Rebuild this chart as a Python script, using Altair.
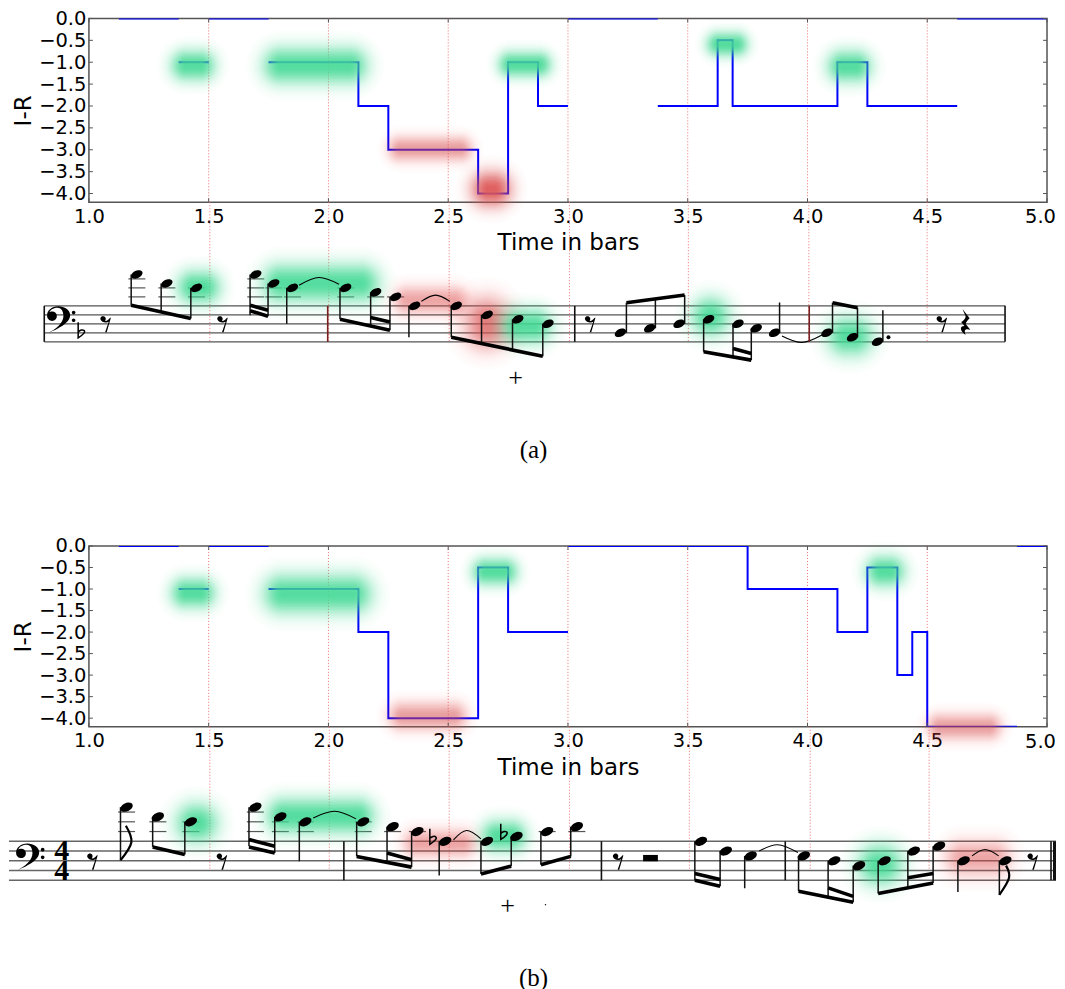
import altair as alt
import numpy as np
import pandas as pd

# ---------- I-R curves: (group, time in bars, value), drawn as steps ----------
curve_a = [
    (0, [1.125, 1.375], [0, 0]),
    (1, [1.375, 1.5], [-1, -1]),
    (2, [1.5, 1.75], [0, 0]),
    (3, [1.75, 2.125, 2.25, 2.625, 2.75, 2.875, 3.0], [-1, -2, -3, -4, -1, -2, -2]),
    (4, [3.0, 3.375], [0, 0]),
    (5, [3.375, 3.625, 3.6875, 4.125, 4.25, 4.625], [-2, -0.5, -2, -1, -2, -2]),
    (6, [4.625, 5.0], [0, 0]),
]
curve_b = [
    (0, [1.125, 1.375], [0, 0]),
    (1, [1.375, 1.5], [-1, -1]),
    (2, [1.5, 1.75], [0, 0]),
    (3, [1.75, 2.125, 2.25, 2.625, 2.75, 3.0], [-1, -2, -4, -0.5, -2, -2]),
    (4, [3.0, 3.75, 4.125, 4.25, 4.375, 4.4375, 4.5, 4.875], [0, -1, -2, -0.5, -3, -2, -4.2, -4.2]),
    (5, [4.875, 5.0], [0, 0]),
]
x_ticks = [1.0, 1.5, 2.0, 2.5, 3.0, 3.5, 4.0, 4.5, 5.0]
y_ticks = [0.0, -0.5, -1.0, -1.5, -2.0, -2.5, -3.0, -3.5, -4.0]
bar_marks = [1.5, 2.0, 2.5, 3.0, 3.5, 4.0, 4.5]

GREEN, RED = "#46dd98", "#e05a5a"
# highlights: time from, time to, I-R from, I-R to, colour, strength
glow_plot_a = [
    (1.33, 1.54, -0.66, -1.49, GREEN, .9), (1.71, 2.18, -0.57, -1.58, GREEN, .9),
    (2.70, 2.94, -0.71, -1.39, GREEN, .9), (3.57, 3.76, -0.27, -0.91, GREEN, .9),
    (4.07, 4.28, -0.66, -1.53, GREEN, .9), (2.24, 2.61, -2.65, -3.31, RED, .55),
    (2.58, 2.78, -3.41, -4.39, RED, .95),
]
glow_plot_b = [
    (1.33, 1.54, -0.67, -1.51, GREEN, .9), (1.71, 2.20, -0.56, -1.67, GREEN, .9),
    (2.59, 2.80, -0.23, -0.97, GREEN, .9), (2.24, 2.59, -3.57, -4.34, RED, .55),
    (4.23, 4.42, -0.16, -1.02, GREEN, .9), (4.49, 4.82, -3.85, -4.55, RED, .55),
]

# ---------- scores: column along the page, staff step (bottom line = 0) ----------
glow_score_a = [
    (173, 223, 16.6, 7.7, GREEN, .9), (257, 383, 18.2, 7.9, GREEN, .9),
    (390, 470, 13, 5.5, RED, .5), (460, 512, 10.8, -2.5, RED, .75),
    (497, 555, 8.2, -1.2, GREEN, .9), (687, 733, 10.8, 0.4, GREEN, .9),
    (823, 877, 6.4, -4, GREEN, .9),
]
glow_score_b = [
    (171, 221, 16.6, 6.9, GREEN, .9), (262, 378, 17.6, 8.8, GREEN, .9),
    (400, 478, 11, 4.2, RED, .5), (478, 529, 12.9, 5.3, GREEN, .9),
    (853, 907, 8.3, -1.9, GREEN, .9), (941, 1015, 9, 0.1, RED, .5),
]
marks_col_a = [209, 328, 448.6, 569, 688, 808.6, 927]
marks_col_b = [209, 328.6, 448.6, 569, 689, 810, 929]

notes_a = [(136, 15), (166, 13), (195.7, 12), (255, 15), (273, 13), (291.7, 12), (345, 12), (375, 11),
           (395, 10), (414, 8), (455.7, 8), (486.7, 6), (517.3, 5), (547.5, 4), (620, 2), (649.3, 3),
           (678.7, 4), (708.3, 5), (737.7, 4), (756, 3), (774.3, 2), (826.7, 2), (852.3, 1), (877.3, 0)]
stems_a = [(130.3, 15, 8.15), (160.3, 13, 6.7), (190, 12, 5.2), (249.3, 15, 5.9), (267.3, 13, 5.7),
           (286, 12, 4), (339.3, 12, 5), (370, 11, 3.5), (389.3, 10, 2.6), (408.3, 8, 1), (450.7, 8, 1),
           (481, 6, -0.5), (512, 5, -1.85), (542.3, 4, -3.2), (626, 2, 8.7), (655, 3, 9.4), (684.3, 4, 10.4),
           (703.3, 5, -2.2), (732.7, 4, -3.2), (751, 3, -4.07), (779.3, 2, 8.75), (832.3, 2, 8.7),
           (857.3, 1, 7.6), (882.7, 0, 7)]
beams_a = [(130.3, 8.15, 190, 5.2), (249.3, 8.15, 267.3, 7.05), (249.3, 6.9, 267.3, 5.7),
           (339.3, 5, 389.3, 2.6), (370, 5.4, 389.3, 4.4), (450.7, 1, 542.3, -3.2),
           (626, 8.7, 684.3, 10.4), (703.3, -2.2, 751, -4.07), (732.7, -1.5, 751, -2.6),
           (832.3, 8.7, 857.3, 7.6)]
ties_a = [[(298.3, 12.6), (318.3, 14.3), (338.3, 12.8)], [(420.7, 9), (435, 10.4), (449.3, 9)],
          [(781.7, 1.3), (801.7, -0.15), (821.7, 1.5)]]
bars_a = [43.3, 574.3, 1005]
red_bars_a = [327, 809]
rests_a = [(105, 4), (222, 4), (590, 4), (942, 4)]
flats_a = [(80, 2.3)]
quarter_rest_a = [(965, 4.4)]
dots_a = [(888.3, 1)]
clef_a = [(58, 4.8)]
plus_a = [(515, -8.1)]
label_a = [(533, -24, "(a)")]
staff_a = (43.3, 1005)

notes_b = [(125.7, 15), (157, 13), (190, 12), (254.6, 15), (279.6, 13), (304.6, 12), (362.5, 12), (392, 11),
           (416.8, 10), (444.6, 8), (486.4, 8), (516, 9), (546.6, 10), (576.4, 11), (700.6, 8), (725.5, 6),
           (750.4, 5), (803.6, 5), (834, 4), (858.9, 3), (884.4, 4), (913.7, 6), (939, 7), (963.6, 4), (1005.3, 4)]
stems_b = [(119.6, 15, 4.1), (151.8, 13, 6.85), (184, 12, 5.3), (248.2, 15, 7), (274, 13, 5.6), (298.6, 12, 3.9),
           (356, 12, 4.9), (386.4, 11, 3.7), (411, 10, 2.7), (438.6, 8, 1), (480.4, 8, 1.3), (510.7, 9, 2.9),
           (540.4, 10, 3.2), (570.3, 11, 4.9), (694.5, 8, 0), (719.8, 6, -1.23), (744.4, 5, -1.64),
           (798.3, 5, -2.25), (827.9, 4, -3.3), (853, 3, -4.5), (878, 4, -2.7), (907.7, 6, -1.6),
           (933, 7, -0.55), (957.8, 4, -2.4), (999.3, 4, -3)]
beams_b = [(151.8, 6.85, 184, 5.3), (248.2, 8.35, 274, 7), (248.2, 6.85, 274, 5.6),
           (356, 4.9, 411, 2.7), (386.4, 5.6, 411, 4.2), (480.4, 1.3, 510.7, 2.9), (540.4, 3.2, 570.3, 4.9),
           (694.5, 1.37, 719.8, 0.14), (694.5, 0, 719.8, -1.23), (798.3, -2.25, 853, -4.5),
           (827.9, -1.57, 853, -3.3), (878, -2.7, 933, -0.55), (907.7, 0.5, 933, 1.37)]
ties_b = [[(312.5, 12.8), (334, 14.15), (355.4, 12.6)], [(452.9, 8.3), (466, 10.2), (480.4, 8.5)],
          [(758.9, 6), (777.4, 7.3), (797.6, 5.7)], [(972, 5), (985, 6.3), (998.6, 5)]]
flags_b = [[(119.6, 4.1), (130.5, 7.8), (125, 11.2)], [(999.3, -3), (1009, 0.5), (1006, 3)]]
bars_b = [343.2, 601, 785, 1051]
thick_bars_b = [1054.5]
rests_b = [(91.8, 3.9), (221.4, 3.9), (618, 3.9), (1033, 3.9)]
flats_b = [(432, 8.7), (503, 9.7)]
clef_b = [(27, 4.7)]
four_b = [(60.7, 6, "4"), (60.7, 2, "4")]
plus_b = [(507, -5.2)]
label_b = [(533, -20, "(b)")]
speck_b = [(545, -5)]
staff_b = (8, 1056)
wide_rest_b = [(642.7, 657.5, 5.2, 3.9)]
staff_steps = [0, 2, 4, 6, 8]

# ---------- engraving glyphs as symbol outlines ----------
HEAD = "M-0.906,0.423 A1,0.62 -25 1 1 0.906,-0.423 A1,0.62 -25 1 1 -0.906,0.423 Z"
REST = ("M-0.55,-0.45 A0.27,0.27 0 1 1 -0.1,-0.3 C0.05,-0.25 0.25,-0.35 0.42,-0.6 L0.5,-0.6 L0.08,0.85 L-0.08,0.85 "
        "L0.28,-0.2 C0.1,-0.1 -0.4,-0.05 -0.55,-0.45 Z")
QUARTER = ("M-0.2,-1 L0.35,-0.3 C0.2,-0.15 0.05,0 0.05,0.15 L0.4,0.6 C0.1,0.5 -0.15,0.55 0.05,1 "
           "C-0.4,0.7 -0.45,0.3 -0.05,0.3 L-0.3,0 C0,-0.2 0.1,-0.4 0,-0.55 Z")
FLAT = "M-0.3,-1 L-0.3,0.7 C0.3,0.3 0.5,0.05 0.35,-0.1 C0.2,-0.25 -0.1,-0.15 -0.3,0.05"
CLEF = ("M-0.85,0.95 C-0.1,0.65 0.8,0.2 0.8,-0.35 C0.8,-0.75 0.4,-1 -0.05,-1 C-0.5,-1 -0.85,-0.7 -0.85,-0.35 "
        "C-0.85,-0.05 -0.65,0.05 -0.48,0.05 C-0.3,0.05 -0.15,-0.1 -0.15,-0.3 C-0.15,-0.5 -0.3,-0.62 -0.48,-0.62 "
        "C-0.6,-0.62 -0.65,-0.6 -0.7,-0.55 C-0.6,-0.8 -0.35,-0.9 -0.1,-0.9 C0.2,-0.9 0.32,-0.6 0.32,-0.3 "
        "C0.32,0.2 -0.2,0.65 -0.85,0.95 Z "
        "M0.92,-0.55 A0.13,0.13 0 1 0 1.18,-0.55 A0.13,0.13 0 1 0 0.92,-0.55 Z "
        "M0.92,0 A0.13,0.13 0 1 0 1.18,0 A0.13,0.13 0 1 0 0.92,0 Z")

WIDTH = 959
PX_BAR = WIDTH / 4.0
LEVELS = 26


def glow_layer(rows, X, Y, xkm, ykm):
    """Soft spots: nested rounded rects whose summed alpha follows a bell-shaped fall-off."""
    recs = []
    for x0, x1, y0, y1, col, strength in rows:
        hw0 = (x1 - x0) * xkm / 2
        hh0 = abs(y0 - y1) * ykm / 2
        extra = 0.45 * hh0 + 3
        hw, hh = hw0 + extra, hh0 + extra
        xc, yc = (x0 + x1) / 2, (y0 + y1) / 2
        edge = min(hw, hh)
        prev = 0.0
        for k in range(LEVELS):
            u = (k + 1) / LEVELS
            target = strength * float(np.exp(-((1 - u) * 2.05) ** 2))
            a = 1 - (1 - target) / (1 - prev)
            prev = target
            inset = k / LEVELS * edge
            w, h = hw - inset, hh - inset
            recs.append(dict(x=xc - w / xkm, x2=xc + w / xkm, s=yc - h / ykm, s2=yc + h / ykm,
                             c=col, a=a, r=min(w, h)))
    return alt.Chart(pd.DataFrame(recs)).mark_rect(cornerRadius=alt.expr("datum.r")).encode(
        x=X, x2="x2:Q", y=Y, y2="s2:Q",
        color=alt.Color("c:N", scale=None), opacity=alt.Opacity("a:Q", scale=None))


def plot_panel(curve, glows, height, ykm, bottom):
    xs = alt.Scale(domain=[1, 5], nice=False, zero=False)
    ys = alt.Scale(domain=[bottom, 0], nice=False, zero=False)
    common = dict(tickSize=0, domain=False, grid=False, labelFlush=False, labelOverlap=False,
                  labelFont="DejaVu Sans", labelFontSize=19.5, labelColor="#000", titleFont="DejaVu Sans",
                  titleFontSize=23, titleFontWeight="normal", titleColor="#000")
    X = alt.X("x:Q", scale=xs, title="Time in bars",
              axis=alt.Axis(values=x_ticks, labelExpr="datum.value == 5 ? '' : format(datum.value, '.1f')",
                            labelPadding=5, titlePadding=6, **common))
    Y = alt.Y("s:Q", scale=ys, title="I-R",
              axis=alt.Axis(values=y_ticks, format=".1f", labelPadding=3, titlePadding=3, **common))
    line = pd.DataFrame([dict(g=g, x=t, s=v, i=i) for g, ts, vs in curve for i, (t, v) in enumerate(zip(ts, vs))])
    rules = alt.Chart(pd.DataFrame({"x": bar_marks, "s": bottom, "s2": 0.0})).mark_rule(
        color="#f07070", strokeWidth=1, strokeDash=[1, 2]).encode(x=X, y=Y, y2="s2:Q")
    steps = alt.Chart(line).mark_line(color="#0000ff", strokeWidth=2, interpolate="step-after", clip=True).encode(
        x=X, y=Y, detail="g:N", order="i:Q")
    glow = glow_layer(glows, X, Y, PX_BAR, ykm)
    last = alt.Chart(pd.DataFrame({"x": [5.0], "s": [bottom], "t": ["5.0"]})).mark_text(
        font="DejaVu Sans", fontSize=19.5, color="#000", align="right", baseline="middle", dx=9, dy=15).encode(
        x=X, y=Y, text="t:N")

    def tick(df, shape):
        return alt.Chart(df).mark_point(shape=shape, size=64, color="#555", strokeWidth=1, filled=False, opacity=1).encode(
            x=X, y=Y)
    tick_layers = [
        tick(pd.DataFrame({"x": x_ticks, "s": 0.0}), "M0,0L0,1"),
        tick(pd.DataFrame({"x": x_ticks, "s": bottom}), "M0,0L0,-1"),
        tick(pd.DataFrame({"x": 1.0, "s": y_ticks}), "M0,0L1,0"),
        tick(pd.DataFrame({"x": 5.0, "s": y_ticks}), "M0,0L-1,0"),
    ]
    return alt.layer(rules, steps, glow, last, *tick_layers).properties(
        width=WIDTH, height=height, view=alt.ViewBackground(stroke="#555", strokeWidth=1.5))


def score_panel(height, sdom, step_px, head_size, staff, glows, mark_cols, mark_end, notes, stems, beams, ties,
                bars, red_bars=(), thick_bars=(), rests=(), flats=(), quarter=(), dots=(), clef=(), plus=(),
                label=(), flags=(), fours=(), wide=(), speck=(), staff_color="#555", staff_w=1.2):
    xs = alt.Scale(domain=[88, 88 + WIDTH], nice=False, zero=False)
    ys = alt.Scale(domain=sdom, nice=False, zero=False)
    X = alt.X("x:Q", scale=xs, axis=None)
    Y = alt.Y("s:Q", scale=ys, axis=None)

    def seg(rows, **kw):
        df = pd.DataFrame(rows, columns=["x", "s", "x2", "s2"])
        return alt.Chart(df).mark_rule(**kw).encode(x=X, y=Y, x2="x2:Q", y2="s2:Q")

    def sym(rows, shape, size, filled=True, **kw):
        df = pd.DataFrame(rows, columns=["x", "s"])
        return alt.Chart(df).mark_point(shape=shape, size=size, filled=filled, color="#000", opacity=1, **kw).encode(x=X, y=Y)

    def txt(rows, **kw):
        df = pd.DataFrame(rows, columns=["x", "s", "t"])
        return alt.Chart(df).mark_text(color="#000", baseline="middle", align="center", **kw).encode(x=X, y=Y, text="t:N")

    def curves(groups, **kw):
        df = pd.DataFrame([dict(g=g, i=i, x=p[0], s=p[1]) for g, c in enumerate(groups) for i, p in enumerate(c)])
        return alt.Chart(df).mark_line(color="#000", interpolate="natural", **kw).encode(x=X, y=Y, detail="g:N", order="i:Q")

    ledger = [(x - 8.5, lv, x + 8.5, lv) for x, s in notes for lv in range(10, int(s) + 1, 2)]
    layers = [
        seg([(c, sdom[1], c, mark_end) for c in mark_cols], color="#f07070", strokeWidth=1, strokeDash=[1, 2]),
        seg([(staff[0], v, staff[1], v) for v in staff_steps], color=staff_color, strokeWidth=staff_w),
        seg(ledger, color="#555", strokeWidth=1.2),
        glow_layer(glows, X, Y, 1.0, step_px),
        seg([(c, 8, c, 0) for c in bars], color="#111", strokeWidth=1.6),
        seg([(x, t, x, b) for x, t, b in stems], color="#111", strokeWidth=1.5),
        seg(beams, color="#000", strokeWidth=3.6),
        sym(notes, HEAD, head_size),
        curves(ties, strokeWidth=1.1),
        sym(rests, REST, 400),
    ]
    if len(red_bars):
        layers.append(seg([(c, 8, c, 0) for c in red_bars], color="#7a1f1f", strokeWidth=1.6))
    if len(thick_bars):
        layers.append(seg([(c, 8, c, 0) for c in thick_bars], color="#111", strokeWidth=3))
    if len(flats):
        layers.append(sym(flats, FLAT, 340, filled=False, strokeWidth=1.5))
    if len(quarter):
        layers.append(sym(quarter, QUARTER, 676))
    if len(dots):
        layers.append(sym(dots, "circle", 16))
    if len(clef):
        layers.append(sym(clef, CLEF, 784))
    if len(plus):
        layers.append(txt([(x, s, "+") for x, s in plus], font="Liberation Serif", fontSize=26))
    if len(label):
        layers.append(txt(label, font="Liberation Serif", fontSize=25))
    if len(flags):
        layers.append(curves(flags, strokeWidth=2.2))
    if len(fours):
        layers.append(txt(fours, font="Liberation Serif", fontWeight="bold", fontSize=30))
    if len(wide):
        df = pd.DataFrame(wide, columns=["x", "x2", "s", "s2"])
        layers.append(alt.Chart(df).mark_rect(color="#000").encode(x=X, x2="x2:Q", y=Y, y2="s2:Q"))
    if len(speck):
        layers.append(sym(speck, "circle", 2))
    return alt.layer(*layers).properties(width=WIDTH, height=height, view=alt.ViewBackground(stroke=None))


top_plot = plot_panel(curve_a, glow_plot_a, 184, 43.75, -4.2)
top_score = score_panel(344, [-45.4, 31.04], 4.5, 144, staff_a, glow_score_a, marks_col_a, 0, notes_a, stems_a, beams_a,
                        ties_a, bars_a, red_bars=red_bars_a, rests=rests_a, flats=flats_a, quarter=quarter_rest_a,
                        dots=dots_a, clef=clef_a, plus=plus_a, label=label_a)
bot_plot = plot_panel(curve_b, glow_plot_b, 181, 43.1, -4.2)
bot_score = score_panel(258, [-21.4, 31.5], 4.875, 169, staff_b, glow_score_b, marks_col_b, 2.2, notes_b, stems_b, beams_b,
                        ties_b, bars_b, thick_bars=thick_bars_b, rests=rests_b, flats=flats_b, clef=clef_b, plus=plus_b,
                        label=label_b, flags=flags_b, fours=four_b, wide=wide_rest_b, speck=speck_b,
                        staff_color="#666", staff_w=1.6)

chart = alt.vconcat(top_plot, top_score, bot_plot, bot_score, spacing=0, bounds="flush").properties(
    padding={"left": 0, "top": -1, "right": 0, "bottom": 0})
chart = chart.configure_view(stroke=None)
chart.save("out.html", embed_options={"renderer": "svg", "actions": False})
